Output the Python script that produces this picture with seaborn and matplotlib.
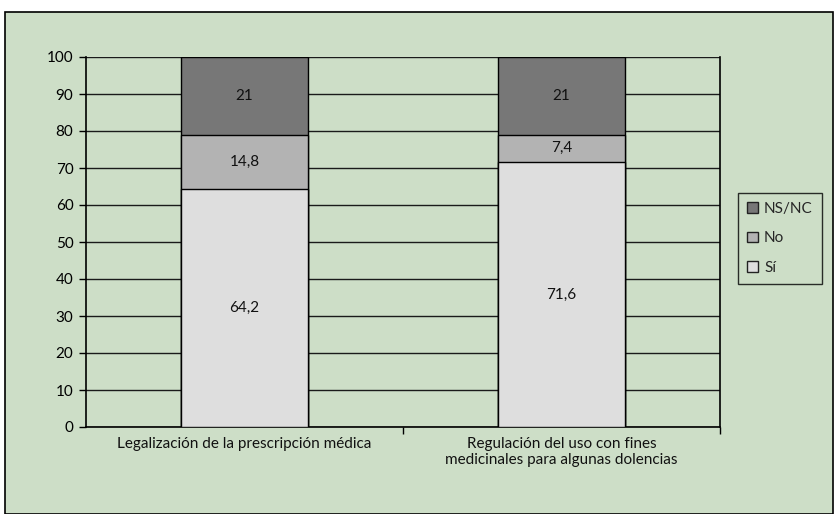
import matplotlib
matplotlib.use("Agg")
import matplotlib.pyplot as plt
from matplotlib.patches import Rectangle, Patch
import seaborn as sns
import pandas as pd
import numpy as np

# Survey answers (%) for each proposal
categorias = ["Legalización de la prescripción médica",
              "Regulación del uso con fines\nmedicinales para algunas dolencias"]
si = [64.2, 71.6]
no = [14.8, 7.4]
nsnc = [21, 21]

respuestas = ["NS/NC", "No", "Sí"]
colores = {"Sí": "#dedede", "No": "#b3b3b3", "NS/NC": "#777777"}
verde = "#cddec7"

sns.set_theme(style="white")
plt.rcParams["font.family"] = ["Lato", "DejaVu Sans"]

fig = plt.figure(figsize=(8.35, 5.14), dpi=100)
fig.patch.set_facecolor("white")
fig.patches.append(Rectangle((5 / 835, 0.0), 828 / 835, 1 - 12 / 514,
                             transform=fig.transFigure, facecolor=verde,
                             edgecolor="black", linewidth=1.2, zorder=-10))

ax = fig.add_axes([86 / 835, 1 - 427 / 514, 634 / 835, 370 / 514])
ax.set_facecolor(verde)

df = pd.DataFrame({"cat": categorias, "Sí": si, "No": no, "NS/NC": nsnc})
# cumulative tops, drawn from the tallest down so each segment shows
df["top_nsnc"] = df["Sí"] + df["No"] + df["NS/NC"]
df["top_no"] = df["Sí"] + df["No"]
df["top_si"] = df["Sí"]

for col, key in [("top_nsnc", "NS/NC"), ("top_no", "No"), ("top_si", "Sí")]:
    sns.barplot(data=df, x="cat", y=col, color=colores[key], saturation=1,
                width=0.4, edgecolor="black", linewidth=1.0, ax=ax, zorder=3)

# value labels in the middle of each segment
for i in range(len(categorias)):
    base = 0
    for key in ["Sí", "No", "NS/NC"]:
        v = df[key][i]
        ax.text(i, base + v / 2, f"{v:g}".replace(".", ","), ha="center",
                va="center", fontsize=11, color="#111111", zorder=5)
        base += v

ax.set_ylim(0, 100)
ax.set_xlim(-0.5, 1.5)
ax.set_yticks(np.arange(0, 101, 10))
ax.yaxis.grid(True, color="#1a1a1a", linewidth=1.0)
ax.set_axisbelow(True)
ax.set_xlabel("")
ax.set_ylabel("")

for s in ["left", "bottom", "right"]:
    ax.spines[s].set_visible(True)
    ax.spines[s].set_color("black")
    ax.spines[s].set_linewidth(1.2)
ax.spines["top"].set_visible(False)

ax.tick_params(axis="y", which="both", left=True, length=5, width=1,
               labelsize=11, colors="black", pad=4)
ax.set_xticks([0, 1])
ax.set_xticklabels(categorias, fontsize=11, color="#111111")
ax.tick_params(axis="x", which="major", length=0, pad=7)
ax.set_xticks([0.5, 1.5], minor=True)
ax.tick_params(axis="x", which="minor", bottom=True, length=5, width=1,
               color="black")

handles = [Patch(facecolor=colores[k], edgecolor="#222222", label=k)
           for k in respuestas]
leg = fig.legend(handles=handles, loc="upper left",
                 bbox_to_anchor=(738 / 835, 1 - 193 / 514),
                 frameon=True, fontsize=11, handlelength=0.7,
                 handleheight=0.7, handletextpad=0.4, labelspacing=1.0,
                 borderpad=0.6, fancybox=False, borderaxespad=0)
leg.get_frame().set_facecolor(verde)
leg.get_frame().set_edgecolor("black")
leg.get_frame().set_linewidth(1.0)

fig.savefig("out.png", dpi=100, facecolor=fig.get_facecolor())
